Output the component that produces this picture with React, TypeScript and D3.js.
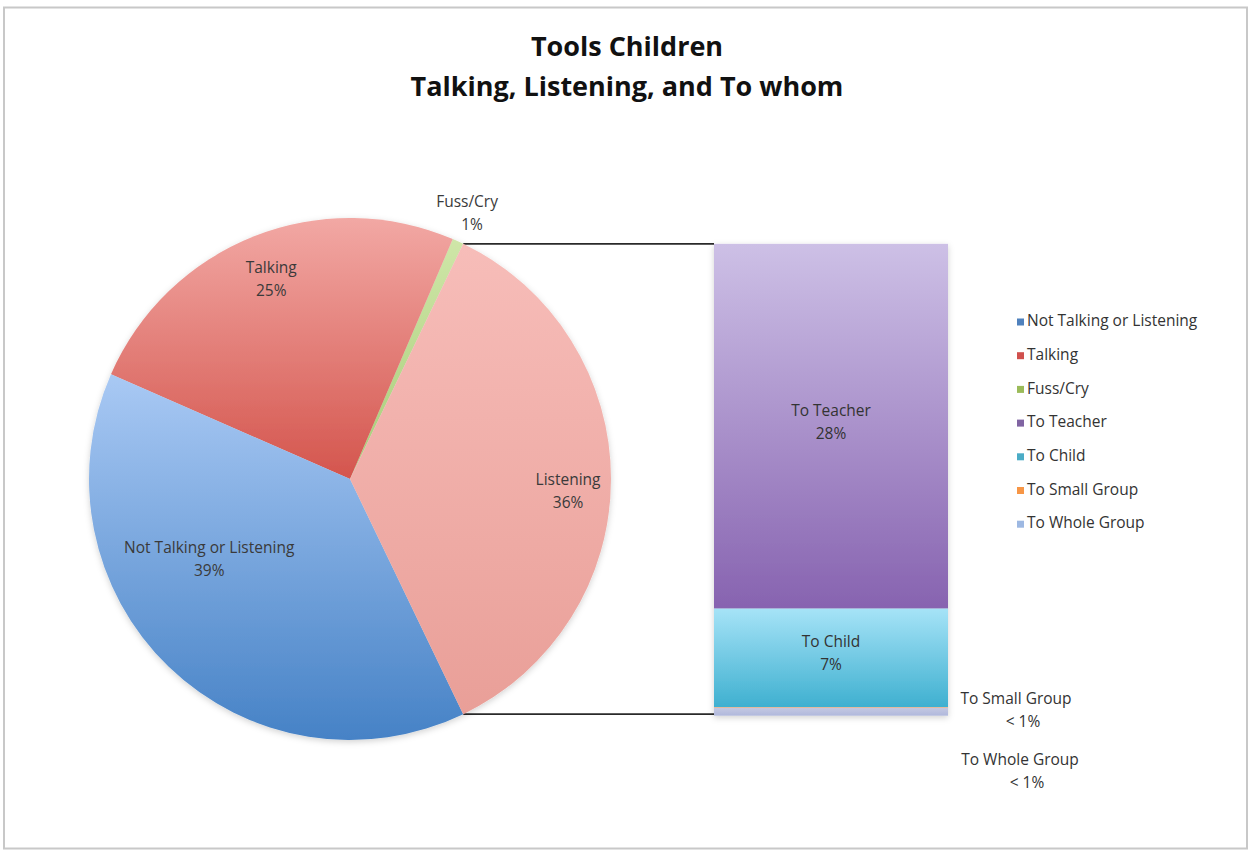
import React from "react";
import * as d3 from "d3";

const titleLines = ["Tools Children", "Talking, Listening, and To whom"];

// pie categories (Listening is expanded into the bar)
const pieCategories = ["Not Talking or Listening", "Talking", "Fuss/Cry"];
const pieValues = [38.7, 24.85, 0.7];
const pieLabels = ["39%", "25%", "1%"];
const otherCategory = "Listening";
const otherLabel = "36%";

// bar (breakdown of Listening)
const barCategories = ["To Teacher", "To Child", "To Small Group", "To Whole Group"];
const barValues = [27.6, 7.45, 0.05, 0.6];
const barLabels = ["28%", "7%", "< 1%", "< 1%"];

const legendItems = [
  "Not Talking or Listening",
  "Talking",
  "Fuss/Cry",
  "To Teacher",
  "To Child",
  "To Small Group",
  "To Whole Group",
];

// styles
const legendColors = ["#4f81bd", "#d0504d", "#9bbb59", "#8064a2", "#4bacc6", "#f79646", "#9db8e2"];
const pieGrad: Record<string, [string, string]> = {
  "Not Talking or Listening": ["#a9c9f4", "#4682c6"],
  Talking: ["#f2a8a4", "#d4554d"],
  "Fuss/Cry": ["#cfe6a8", "#a8cc78"],
  Listening: ["#f7bdb9", "#e99f98"],
};
const barGrad: Record<string, [string, string]> = {
  "To Teacher": ["#cdc0e6", "#8763b0"],
  "To Child": ["#a6e3f7", "#3fb0d0"],
  "To Small Group": ["#f9b27a", "#f79646"],
  "To Whole Group": ["#c4c8e2", "#b0b8dc"],
};

// label layout: [clock angle deg, radius fraction]
const pieLabelLayout: Record<string, [number, number]> = {
  "Not Talking or Listening": [240, 0.623],
  Talking: [-21.6, 0.82],
  "Fuss/Cry": [23.9, 1.107],
  Listening: [93.4, 0.837],
};

const FONT = "'Open Sans', Lato, sans-serif";
const LABEL_SIZE = 15.5;

export default function App() {
  const W = 1250;
  const H = 852;
  const cx = 350;
  const cy = 479;
  const R = 261;

  const listeningValue = d3.sum(barValues);
  const allPie = [
    ...pieCategories.map((c, i) => ({ name: c, value: pieValues[i], label: pieLabels[i] })),
    { name: otherCategory, value: listeningValue, label: otherLabel },
  ];
  const total = d3.sum(allPie, (d) => d.value);
  const angleScale = d3.scaleLinear().domain([0, total]).range([0, Math.PI * 2]);
  const otherAngle = angleScale(listeningValue);
  // Listening centered at 3 o'clock; others go counter-clockwise from its top edge
  const listenStart = Math.PI / 2 - otherAngle / 2;
  const listenEnd = Math.PI / 2 + otherAngle / 2;

  const slices: { name: string; label: string; start: number; end: number }[] = [];
  let cursor = listenStart;
  const ccwOrder = pieCategories.map((c, i) => ({ c, v: pieValues[i], l: pieLabels[i] })).reverse();
  ccwOrder.forEach((d) => {
    const a = angleScale(d.v);
    slices.push({ name: d.c, label: d.l, start: cursor - a, end: cursor });
    cursor -= a;
  });
  slices.push({ name: otherCategory, label: otherLabel, start: listenStart, end: listenEnd });

  const arc = d3.arc<any>().innerRadius(0).outerRadius(R);

  const topPt = [cx + R * Math.sin(listenStart), cy - R * Math.cos(listenStart)];
  const botPt = [cx + R * Math.sin(listenEnd), cy - R * Math.cos(listenEnd)];

  const barX = 714;
  const barW = 234;
  const barTop = topPt[1];
  const barBottom = botPt[1] + 1.5;
  const yBar = d3.scaleLinear().domain([0, listeningValue]).range([barTop, barBottom]);
  let acc = 0;
  const barSegs = barCategories.map((c, i) => {
    const s = { name: c, label: barLabels[i], y0: yBar(acc), y1: yBar(acc + barValues[i]) };
    acc += barValues[i];
    return s;
  });

  const legendX = 1017;
  const legendY0 = 322;
  const legendStep = 33.7;

  const idOf = (s: string) => "g_" + s.replace(/[^A-Za-z]/g, "");

  return (
    <svg
      width={W}
      height={H}
      style={{ position: "absolute", left: 0, top: 0, background: "#fff" }}
      fontFamily={FONT}
    >
      <defs>
        {Object.entries({ ...pieGrad, ...barGrad }).map(([k, [c1, c2]]) => (
          <linearGradient key={k} id={idOf(k)} x1="0" y1="0" x2="0" y2="1">
            <stop offset="0" stopColor={c1} />
            <stop offset="1" stopColor={c2} />
          </linearGradient>
        ))}
        <filter id="shadow" x="-10%" y="-10%" width="120%" height="120%">
          <feDropShadow dx="0" dy="2" stdDeviation="3" floodColor="#000" floodOpacity="0.18" />
        </filter>
      </defs>
      <rect x={0} y={0} width={W} height={H} fill="#fff" />
      <rect x={4} y={7.5} width={1243} height={841} fill="none" stroke="#c8c8c8" strokeWidth={2} />

      {/* title */}
      <text x={627} y={56} textAnchor="middle" fontSize={27} fontWeight={700} fill="#111">
        {titleLines[0]}
      </text>
      <text x={627} y={96} textAnchor="middle" fontSize={27} fontWeight={700} fill="#111">
        {titleLines[1]}
      </text>

      {/* connector lines */}
      <line x1={topPt[0]} y1={topPt[1]} x2={barX} y2={barTop} stroke="#2a2a2a" strokeWidth={1.6} />
      <line x1={botPt[0]} y1={botPt[1]} x2={barX} y2={botPt[1]} stroke="#2a2a2a" strokeWidth={1.6} />

      {/* pie */}
      <g transform={`translate(${cx},${cy})`} filter="url(#shadow)">
        {slices.map((s) => (
          <path
            key={s.name}
            d={arc({ startAngle: s.start, endAngle: s.end }) || ""}
            fill={`url(#${idOf(s.name)})`}
          />
        ))}
      </g>

      {/* bar */}
      <g filter="url(#shadow)">
        {barSegs.map((s) => (
          <rect
            key={s.name}
            x={barX}
            y={s.y0}
            width={barW}
            height={Math.max(0, s.y1 - s.y0)}
            fill={`url(#${idOf(s.name)})`}
          />
        ))}
      </g>

      {/* pie labels */}
      {slices.map((s) => {
        const [deg, rf] = pieLabelLayout[s.name];
        const a = (deg * Math.PI) / 180;
        const lx = cx + rf * R * Math.sin(a);
        const ly = cy - rf * R * Math.cos(a);
        return (
          <g key={s.name} fontSize={LABEL_SIZE} fill="#3a3a3a" textAnchor="middle">
            <text x={lx} y={ly - 11.5} dominantBaseline="middle">
              {s.name}
            </text>
            <text x={lx + (s.name === "Fuss/Cry" ? 5 : 0)} y={ly + 11.5} dominantBaseline="middle">
              {s.label}
            </text>
          </g>
        );
      })}

      {/* bar labels */}
      {barSegs.slice(0, 2).map((s) => {
        const my = (s.y0 + s.y1) / 2 - 3;
        return (
          <g key={s.name} fontSize={LABEL_SIZE} fill="#333" textAnchor="middle">
            <text x={barX + barW / 2} y={my - 11.5} dominantBaseline="middle">
              {s.name}
            </text>
            <text x={barX + barW / 2} y={my + 11.5} dominantBaseline="middle">
              {s.label}
            </text>
          </g>
        );
      })}
      {barSegs.slice(2).map((s, i) => {
        const my = barBottom - 4 + i * 61;
        const lx = barX + barW + 68 + i * 4;
        return (
          <g key={s.name} fontSize={LABEL_SIZE} fill="#333" textAnchor="middle">
            <text x={lx} y={my - 11.5} dominantBaseline="middle">
              {s.name}
            </text>
            <text x={lx + 7} y={my + 11.5} dominantBaseline="middle">
              {s.label}
            </text>
          </g>
        );
      })}

      {/* legend */}
      {legendItems.map((t, i) => {
        const y = legendY0 + i * legendStep;
        return (
          <g key={t}>
            <rect x={legendX} y={y - 3.5} width={7} height={7} fill={legendColors[i]} />
            <text x={legendX + 10} y={y} dominantBaseline="middle" fontSize={LABEL_SIZE} fill="#333">
              {t}
            </text>
          </g>
        );
      })}
    </svg>
  );
}
